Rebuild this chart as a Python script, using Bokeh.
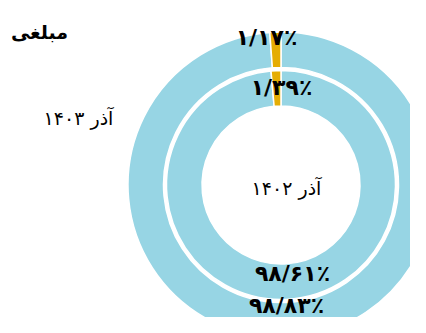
import numpy as np
from bokeh.plotting import figure
from bokeh.models import Range1d, ColumnDataSource
from bokeh.core.properties import value
from bokeh.embed import file_html
from bokeh.resources import INLINE

# ---- data ----
title_text = "مبلغی"
ring_names = ["آذر ۱۴۰۳", "آذر ۱۴۰۲"]          # outer, inner
outer_values = [98.83, 1.17]                     # blue, gold
inner_values = [98.61, 1.39]
slice_colors = ["#97D5E4", "#E5AD04"]

PERSIAN = str.maketrans("0123456789", "۰۱۲۳۴۵۶۷۸۹")


def fa_pct(v):
    return f"{v:.2f}".translate(PERSIAN).replace(".", "/") + "٪"


W, H = 410, 317
p = figure(width=W, height=H, output_backend="svg", toolbar_location=None,
           x_range=Range1d(0, W), y_range=Range1d(0, H),
           min_border=0, outline_line_color=None)
p.axis.visible = False
p.grid.visible = False

cx, cy = 280.5, 132.5
rings = [(outer_values, 117.5, 153.0), (inner_values, 79.0, 114.5)]
for vals, r_in, r_out in rings:
    tot = sum(vals)
    fr = np.cumsum([0] + list(vals)) / tot
    start = np.pi / 2 - 2 * np.pi * fr[:-1]
    end = np.pi / 2 - 2 * np.pi * fr[1:]
    src = ColumnDataSource(dict(start=start, end=end, color=slice_colors))
    p.annular_wedge(x=cx, y=cy, inner_radius=r_in, outer_radius=r_out,
                    start_angle="start", end_angle="end", direction="clock",
                    fill_color="color", line_color="white", line_width=1.5,
                    source=src)

FONT = value("DejaVu Sans")
# percentage labels
pct_src = ColumnDataSource(dict(
    x=[266, 281, 292, 286],
    y=[280, 230, 44, 12],
    t=[fa_pct(outer_values[1]), fa_pct(inner_values[1]),
       fa_pct(inner_values[0]), fa_pct(outer_values[0])]))
p.text(x="x", y="y", text="t", source=pct_src, text_font=FONT,
       text_font_size="22px", text_font_style="bold", text_color="black",
       text_align="center", text_baseline="middle")

# ring names
p.text(x=[78, 286], y=[200, 130], text=ring_names, text_font=FONT,
       text_font_size="19px", text_color="black",
       text_align="center", text_baseline="middle")

# title
p.text(x=[39], y=[286], text=[title_text], text_font=FONT,
       text_font_size="19px", text_font_style="bold", text_color="black",
       text_align="center", text_baseline="middle")

open("out.html", "w").write(file_html(p, INLINE))
